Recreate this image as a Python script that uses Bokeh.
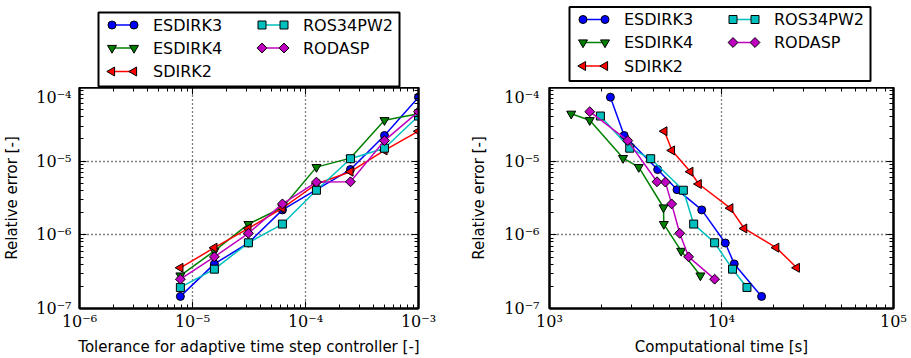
import math
from bokeh.plotting import figure
from bokeh.layouts import row, column
from bokeh.models import Range1d, FixedTicker, LogAxis, CustomJSTickFormatter
from bokeh.core.properties import value
from bokeh.embed import file_html
from bokeh.resources import INLINE

# ---------------- data ----------------
methods = ["ESDIRK3", "ESDIRK4", "SDIRK2", "ROS34PW2", "RODASP"]
tolerance = [7.8125e-6, 1.5625e-5, 3.125e-5, 6.25e-5, 1.25e-4, 2.5e-4, 5e-4, 1e-3]

err_esdirk3 = [1.46e-7, 4.03e-7, 7.75e-7, 2.18e-6, 4.1e-6, 7.7e-6, 2.23e-5, 7.4e-5]
err_esdirk4 = [2.8e-7, 6.05e-7, 1.4e-6, 2.35e-6, 8.3e-6, 1.1e-5, 3.6e-5, 4.4e-5]
err_sdirk2 = [3.57e-7, 6.7e-7, 1.22e-6, 2.3e-6, 4.9e-6, 7.2e-6, 1.4e-5, 2.55e-5]
err_ros34pw2 = [1.93e-7, 3.42e-7, 7.8e-7, 1.4e-6, 4.03e-6, 1.08e-5, 1.5e-5, 4.1e-5]
err_rodasp = [2.5e-7, 5.03e-7, 1.05e-6, 2.63e-6, 5.2e-6, 5.25e-6, 1.9e-5, 4.7e-5]

time_esdirk3 = [17100, 11860, 10520, 7675, 5514, 4255, 2717, 2260]
time_esdirk4 = [7540, 5825, 4620, 4600, 3304, 2677, 1714, 1337]
time_sdirk2 = [27400, 20800, 13550, 11250, 7370, 6590, 5152, 4656]
time_ros34pw2 = [14060, 11590, 9120, 6890, 6000, 3875, 2927, 1977]
time_rodasp = [9120, 6440, 5715, 5130, 4720, 4218, 2851, 1715]

errors = [err_esdirk3, err_esdirk4, err_sdirk2, err_ros34pw2, err_rodasp]
times = [time_esdirk3, time_esdirk4, time_sdirk2, time_ros34pw2, time_rodasp]

# ---------------- style ----------------
colors = ["#0000ff", "#008000", "#ff0000", "#00bfbf", "#bf00bf"]
markers = ["circle", "inverted_triangle", "triangle", "square", "square"]
angles = [0.0, 0.0, math.pi / 2, 0.0, math.pi / 4]
sizes = [8, 9, 9, 8, 7]

SANS = "DejaVu Sans"
SERIF = "DejaVu Serif"
LEG_H = 87          # height of the legend strip
MAIN_H = 358 - LEG_H

POW10 = CustomJSTickFormatter(code="""
const sup = {"0":"\u2070","1":"\u00b9","2":"\u00b2","3":"\u00b3","4":"\u2074",
             "5":"\u2075","6":"\u2076","7":"\u2077","8":"\u2078","9":"\u2079","-":"\u207b"};
const e = Math.round(Math.log10(tick));
return "10" + String(e).split("").map(c => sup[c]).join("");
""")


def decade_ticks(lo, hi):
    major = [10.0 ** e for e in range(lo, hi + 1)]
    minor = [m * 10.0 ** e for e in range(lo, hi) for m in range(2, 10)]
    return FixedTicker(ticks=major, minor_ticks=minor)


def style_axis(ax):
    ax.major_tick_in = 7
    ax.major_tick_out = 0
    ax.minor_tick_in = 4
    ax.minor_tick_out = 0
    ax.axis_line_color = "black"
    ax.axis_line_width = 2
    ax.major_tick_line_color = "black"
    ax.minor_tick_line_color = "black"
    ax.major_tick_line_width = 1
    ax.minor_tick_line_width = 1
    ax.major_label_text_font = SERIF
    ax.major_label_text_font_size = "16px"
    ax.major_label_text_color = "black"
    ax.axis_label_text_font = SANS
    ax.axis_label_text_font_size = "15px"
    ax.axis_label_text_font_style = "normal"
    ax.axis_label_text_color = "black"


def make_fig(xdata, xlo, xhi, xlabel, width, mbl, mbr, ystand, ylabstand):
    p = figure(width=width, height=MAIN_H, x_axis_type="log", y_axis_type="log",
               x_range=Range1d(10.0 ** xlo, 10.0 ** xhi),
               y_range=Range1d(1e-7, 1e-4),
               output_backend="svg", toolbar_location=None,
               min_border_left=mbl, min_border_right=mbr,
               min_border_top=0, min_border_bottom=48)
    p.background_fill_color = "white"
    p.border_fill_color = "white"
    p.outline_line_color = "black"
    p.outline_line_width = 2

    xt = decade_ticks(xlo, xhi)
    yt = decade_ticks(-7, -4)
    p.xaxis.ticker = xt
    p.yaxis.ticker = yt
    p.xaxis.formatter = POW10
    p.yaxis.formatter = POW10
    p.xaxis.axis_label = xlabel
    p.yaxis.axis_label = "Relative error [-]"
    for ax in p.xaxis + p.yaxis:
        style_axis(ax)
    p.xaxis.major_label_standoff = 3
    p.xaxis.axis_label_standoff = 4
    p.yaxis.major_label_standoff = ystand
    p.yaxis.axis_label_standoff = ylabstand

    blank = CustomJSTickFormatter(code="return ''")
    top = LogAxis(ticker=xt, formatter=blank)
    right = LogAxis(ticker=yt, formatter=blank)
    for ax in (top, right):
        style_axis(ax)
        ax.major_label_standoff = 0
        ax.major_label_text_font_size = "0px"
    p.add_layout(top, "above")
    p.add_layout(right, "right")

    for g in (p.xgrid, p.ygrid):
        g.grid_line_color = "black"
        g.grid_line_dash = "1 3"
        g.grid_line_width = 1.3
    p.xgrid.ticker = xt
    p.ygrid.ticker = yt

    for xs, ys, c, m, a, s in zip(xdata, errors, colors, markers, angles, sizes):
        p.line(xs, ys, line_color=c, line_width=1.5)
        p.scatter(xs, ys, marker=m, angle=a, size=s, fill_color=c,
                  line_color="black", line_width=1)
    return p


# legend layout (pixels, measured from the legend box's top-left corner)
BOX_W, BOX_H = 301, 74
ROW_OFF = [12.5, 35.5, 59.0]
COL_OFF = [0.0, 150.0]
MARK_OFF = [13.5, 35.5]
LABEL_OFF = 54.5


def make_legend_fig(width, x0, ytop):
    f = figure(width=width, height=LEG_H, x_range=Range1d(0, width),
               y_range=Range1d(0, LEG_H),
               output_backend="svg", toolbar_location=None,
               x_axis_location=None, y_axis_location=None, min_border=0)
    f.outline_line_color = None
    f.xgrid.visible = False
    f.ygrid.visible = False
    f.background_fill_color = "white"
    f.border_fill_color = "white"
    f.quad(left=[x0], right=[x0 + BOX_W], top=[LEG_H - ytop],
           bottom=[LEG_H - ytop - BOX_H], fill_color="white",
           line_color="black", line_width=2)
    for i, (name, c, m, a, s) in enumerate(zip(methods, colors, markers, angles, sizes)):
        cx = x0 + COL_OFF[i // 3]
        cy = LEG_H - (ytop + ROW_OFF[i % 3])
        xs = [cx + MARK_OFF[0], cx + MARK_OFF[1]]
        f.line(xs, [cy, cy], line_color=c, line_width=1.5)
        f.scatter(xs, [cy, cy], marker=m, angle=a, size=s, fill_color=c,
                  line_color="black", line_width=1)
        f.text([cx + LABEL_OFF], [cy], text=[name], text_font=value(SANS),
               text_font_size="16px", text_color="black",
               text_baseline="middle", text_align="left")
    return f


p1 = make_fig([tolerance] * 5, -6, -3,
              "Tolerance for adaptive time step controller [-]",
              458, 78, 40, 8, 12)
p2 = make_fig(times, 3, 5, "Computational time [s]",
              453, 91, 18, 10, 13)
l1 = make_legend_fig(458, 98, 12)
l2 = make_legend_fig(453, 111, 6.5)

layout = column(row(l1, l2), row(p1, p2))
with open("out.html", "w", encoding="utf-8") as fh:
    fh.write(file_html(layout, INLINE))
